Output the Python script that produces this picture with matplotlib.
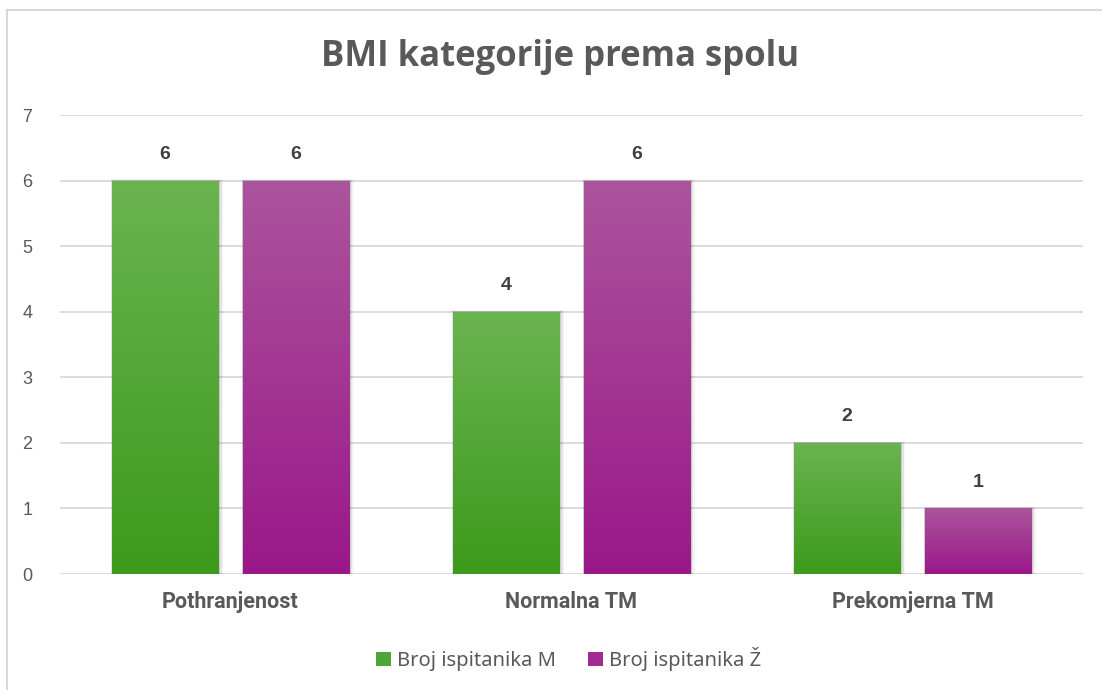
import numpy as np
import matplotlib.pyplot as plt
from matplotlib.patches import Rectangle, Patch
from matplotlib.colors import LinearSegmentedColormap

categories = ['Pothranjenost', 'Normalna TM', 'Prekomjerna TM']
male = [6, 4, 2]
female = [6, 6, 1]
series_names = ['Broj ispitanika M', 'Broj ispitanika Ž']
yticks = [0, 1, 2, 3, 4, 5, 6, 7]

green_top, green_bot = '#6ab450', '#3d9a1c'
mag_top, mag_bot = '#ac549d', '#9a1889'
text_gray = '#595959'

fig = plt.figure(figsize=(11.02, 6.90), dpi=100)
ax = fig.add_axes([0.0544, 0.1681, 0.9283, 0.6652])

# chart border (right/bottom edges fall outside the image)
fig.patches.append(Rectangle((7 / 1102, -0.05), 1.2, 1.05 - 9.5 / 690,
                             transform=fig.transFigure, fill=False,
                             edgecolor='#d9d9d9', linewidth=1.5))

x = np.arange(len(categories))
w = 0.311
off = 0.192

bars_m = ax.bar(x - off, male, w, color='none', zorder=3)
bars_f = ax.bar(x + off, female, w, color='none', zorder=3)

ax.set_xlim(-0.5, 2.5)
ax.set_ylim(0, 7)


def gradient_fill(bars, top, bot):
    cmap = LinearSegmentedColormap.from_list('g', [bot, top])
    grad = np.linspace(0, 1, 256).reshape(-1, 1)
    for b in bars:
        x0, wd, h = b.get_x(), b.get_width(), b.get_height()
        # soft shadow
        for i, a in enumerate([0.10, 0.07, 0.04]):
            d = 0.004 + i * 0.004
            ax.add_patch(Rectangle((x0 - d * 0.3, -0.02), wd + d * 1.6, h + 0.03 + i * 0.005,
                                   facecolor='black', edgecolor='none',
                                   alpha=a, zorder=2))
        im = ax.imshow(grad, extent=[x0, x0 + wd, 0, h], origin='lower',
                       cmap=cmap, aspect='auto', zorder=3, interpolation='bicubic')
        im.set_clip_path(b)


gradient_fill(bars_m, green_top, green_bot)
gradient_fill(bars_f, mag_top, mag_bot)

for bars, vals in [(bars_m, male), (bars_f, female)]:
    for b, v in zip(bars, vals):
        ax.text(b.get_x() + b.get_width() / 2, v + 0.4, str(v),
                ha='center', va='center', fontsize=14, fontweight='bold',
                color='#404040', family='Liberation Sans')

ax.set_yticks(yticks)
ax.set_yticklabels([str(t) for t in yticks], fontsize=13, color=text_gray,
                   family='Liberation Sans')
ax.set_xticks(x)
ax.set_xticklabels(categories, fontsize=15.5, fontweight='bold', color=text_gray,
                   family='Roboto')
ax.tick_params(axis='y', length=0, pad=20)
ax.tick_params(axis='x', length=0, pad=12)
ax.grid(axis='y', color='#d9d9d9', linewidth=1.3, zorder=0)
ax.set_axisbelow(True)
for s in ax.spines.values():
    s.set_visible(False)

fig.text(0.508, 1 - 57 / 690, 'BMI kategorije prema spolu', ha='center', va='center',
         fontsize=25, fontweight='bold', color=text_gray, family='Open Sans')

handles = [Patch(facecolor='#4fa535', edgecolor='none'),
           Patch(facecolor='#a32a93', edgecolor='none')]
fig.legend(handles, series_names, loc='center', bbox_to_anchor=(0.516, 1 - 659 / 690),
           ncol=2, frameon=False,
           prop={'family': 'Noto Sans', 'size': 14.5},
           handlelength=0.75, handleheight=0.75, handletextpad=0.3, columnspacing=1.6,
           labelcolor=text_gray)

fig.savefig('out.png', dpi=100)
